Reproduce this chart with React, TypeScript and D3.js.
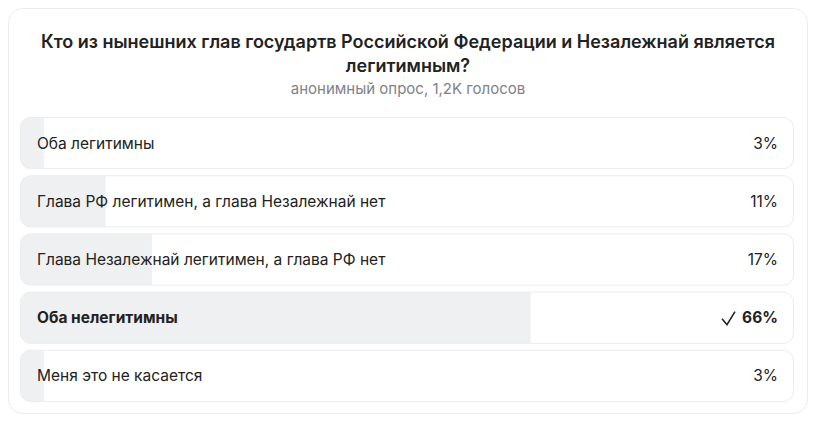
import React from "react";
import * as d3 from "d3";

const title1 = "Кто из нынешних глав государтв Российской Федерации и Незалежнай является";
const title2 = "легитимным?";
const subtitle = "анонимный опрос, 1,2K голосов";
const options = [
  "Оба легитимны",
  "Глава РФ легитимен, а глава Незалежнай нет",
  "Глава Незалежнай легитимен, а глава РФ нет",
  "Оба нелегитимны",
  "Меня это не касается",
];
const percents = [3, 11, 17, 66, 3];
const chosen = [false, false, false, true, false];

const W = 826;
const H = 446;
const FONT = "Inter, 'Noto Sans', sans-serif";

export default function App() {
  const left = 20.5;
  const right = 793.5;
  const x = d3.scaleLinear().domain([0, 100]).range([0, right - left]);
  const y = d3
    .scaleBand<number>()
    .domain(d3.range(options.length))
    .range([117.5, 401.5])
    .paddingInner(7 / 58.2)
    .paddingOuter(0);
  const bh = y.bandwidth();
  return (
    <svg
      width={W}
      height={H}
      style={{ position: "absolute", left: 0, top: 0, background: "#fff" }}
      fontFamily={FONT}
    >
      <rect x={8.5} y={8.5} width={799} height={405} rx={14} fill="#fff" stroke="#ebecef" />
      <text x={408} y={48} textAnchor="middle" fontSize={18} fontWeight={600} fill="#222">
        {title1}
      </text>
      <text x={408} y={72} textAnchor="middle" fontSize={18} fontWeight={600} fill="#222">
        {title2}
      </text>
      <text x={408} y={94} textAnchor="middle" fontSize={15} fill="#80818a">
        {subtitle}
      </text>
      <defs>
        {options.map((_, i) => (
          <clipPath id={`clip${i}`} key={i}>
            <rect x={left} y={y(i)!} width={right - left} height={bh} rx={10} />
          </clipPath>
        ))}
      </defs>
      {options.map((o, i) => {
        const yy = y(i)!;
        return (
          <g key={i}>
            <rect x={left} y={yy} width={right - left} height={bh} rx={10} fill="#fff" />
            <rect
              x={left}
              y={yy}
              width={x(percents[i])}
              height={bh}
              fill="#eff0f2"
              clipPath={`url(#clip${i})`}
            />
            <rect
              x={left}
              y={yy}
              width={right - left}
              height={bh}
              rx={10}
              fill="none"
              stroke="#ebecef"
            />
            <text
              x={37}
              y={yy + bh / 2 + 5.5}
              fontSize={15.5}
              fontWeight={chosen[i] ? 700 : 400}
              fill="#222"
            >
              {o}
            </text>
            <text
              x={778}
              y={yy + bh / 2 + 5.5}
              textAnchor="end"
              fontSize={15.5}
              fontWeight={chosen[i] ? 700 : 400}
              fill="#222"
            >
              {percents[i]}%
            </text>
            {chosen[i] && (
              <path
                d={`M722,${yy + bh / 2 + 1} L727,${yy + bh / 2 + 7} L735,${yy + bh / 2 - 6}`}
                fill="none"
                stroke="#222"
                strokeWidth={1.6}
              />
            )}
          </g>
        );
      })}
    </svg>
  );
}
